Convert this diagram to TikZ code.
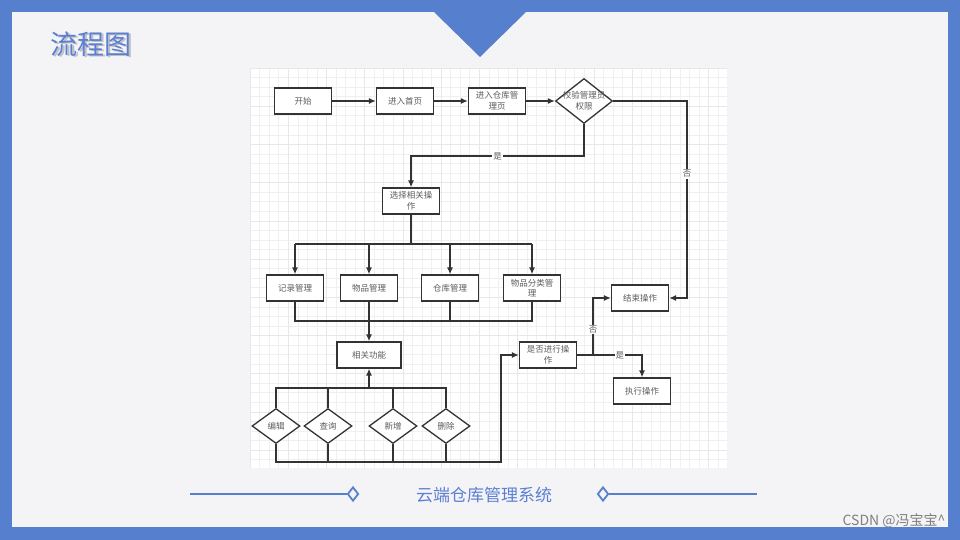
\documentclass[tikz,border=0pt]{standalone}
\usepackage{fontspec}
\setmainfont{Noto Sans CJK SC}
\newfontfamily\cjk{Noto Sans CJK SC}
\usetikzlibrary{shapes.geometric,arrows.meta}
\definecolor{frameblue}{HTML}{5680CE}
\definecolor{titleblue}{HTML}{5B7FD3}
\definecolor{panel}{HTML}{F4F4F7}
\definecolor{ink}{HTML}{333333}
\definecolor{gridc}{HTML}{F0F0F0}
\definecolor{gridm}{HTML}{E8E8E8}
\tikzset{
  x=1pt,y=-1pt,
  box/.style={draw=ink,line width=1.3pt,fill=white,minimum width=57pt,minimum height=26pt,inner sep=1pt,align=center,font=\cjk\fontsize{8.5}{10.5}\selectfont,text=ink!80},
  dia/.style={draw=ink,line width=1.3pt,fill=white,shape=diamond,inner sep=0pt,minimum width=#1},
  dlabel/.style={font=\cjk\fontsize{8.5}{10.5}\selectfont,text=ink!80,align=center},
  conn/.style={draw=ink,line width=1.3pt},
  arr/.style={conn,-{Latex[length=7pt,width=6pt]}},
  lbl/.style={fill=white,inner sep=1pt,font=\cjk\fontsize{8.5}{10.5}\selectfont,text=ink!80},
}
\begin{document}
\begin{tikzpicture}
\useasboundingbox (0,0) rectangle (960,540);
% frame and panel
\fill[frameblue] (0,0) rectangle (960,540);
\fill[panel] (12,12) rectangle (948,527);
\fill[frameblue] (434,12) -- (526,12) -- (480,57) -- cycle;
% title
\node[anchor=west,text=black!25,font=\cjk\fontsize{27}{30}\selectfont] at (48.5,45.5) {流程图};
\node[anchor=west,text=titleblue,font=\cjk\fontsize{27}{30}\selectfont] (title) at (47,44) {流程图};
% canvas
\fill[white] (250,68) rectangle (727,468);
\begin{scope}
\clip (250,68) rectangle (727,468);
\foreach \i in {0,...,50} {\draw[gridc,line width=0.5pt] (250+9.55*\i,68) -- (250+9.55*\i,468);}
\foreach \i in {0,...,42} {\draw[gridc,line width=0.5pt] (250,68+9.55*\i) -- (727,68+9.55*\i);}
\foreach \i in {0,...,12} {\draw[gridm,line width=0.6pt] (250+38.2*\i,68) -- (250+38.2*\i,468);}
\foreach \i in {0,...,10} {\draw[gridm,line width=0.6pt] (250,68+38.2*\i) -- (727,68+38.2*\i);}
\end{scope}
% nodes
\node[box] (start) at (303,101) {开始};
\node[box] (home) at (405,101) {进入首页};
\node[box] (wh) at (497,101) {进入仓库管\\理页};
\node[dia=57pt,minimum height=45pt,label={[dlabel]center:校验管理员\\权限}] (check) at (584,101) {};
\node[box] (sel) at (411,201) {选择相关操\\作};
\node[box] (rec) at (295,288) {记录管理};
\node[box] (goods) at (369,288) {物品管理};
\node[box] (ware) at (450,288) {仓库管理};
\node[box] (cat) at (532,288) {物品分类管\\理};
\node[box,minimum width=64pt] (func) at (369,355) {相关功能};
\node[dia=48pt,minimum height=35pt,label={[dlabel]center:编辑}] (edit) at (276,426) {};
\node[dia=48pt,minimum height=35pt,label={[dlabel]center:查询}] (query) at (328,426) {};
\node[dia=48pt,minimum height=35pt,label={[dlabel]center:新增}] (add) at (393,426) {};
\node[dia=48pt,minimum height=35pt,label={[dlabel]center:删除}] (del) at (446,426) {};
\node[box] (ask) at (548,355) {是否进行操\\作};
\node[box] (end) at (640,298) {结束操作};
\node[box] (exec) at (642,391) {执行操作};
% helper coordinates
\coordinate (nox) at (687,101);
\coordinate (noy) at (687,298);
\coordinate (yesa) at (584,156);
\coordinate (yesb) at (411,156);
\coordinate (splitA) at (411,244);
\coordinate (splitL) at (295,244);
\coordinate (splitR) at (532,244);
\coordinate (joinL) at (295,321);
\coordinate (joinR) at (532,321);
\coordinate (joinW) at (450,321);
\coordinate (topL) at (276,388);
\coordinate (topR) at (446,388);
\coordinate (topM) at (369,388);
\coordinate (botL) at (276,462);
\coordinate (botR) at (501,462);
\coordinate (botU) at (501,355);
\coordinate (br) at (593,355);
\coordinate (brUp) at (593,298);
\coordinate (brR) at (642,355);
% connectors
\draw[arr] (start) -- (home);
\draw[arr] (home) -- (wh);
\draw[arr] (wh) -- (check.west);
\draw[arr] (check.east) -- (nox) -- node[lbl,pos=0.37]{否} (noy) -- (end.east);
\draw[arr] (check.south) -- (yesa) -- node[lbl]{是} (yesb) -- (sel.north);
\draw[conn] (sel.south) -- (splitA);
\draw[conn] (splitL) -- (splitR);
\draw[arr] (splitL) -- (rec.north);
\draw[arr] (goods.north |- splitA) -- (goods.north);
\draw[arr] (ware.north |- splitA) -- (ware.north);
\draw[arr] (splitR) -- (cat.north);
\draw[conn] (rec.south) -- (joinL) -- (joinR) -- (cat.south);
\draw[conn] (ware.south) -- (joinW);
\draw[arr] (goods.south) -- (func.north);
\draw[conn] (edit.north) -- (topL) -- (topR) -- (del.north);
\draw[conn] (query.north) -- (query.north |- topL);
\draw[conn] (add.north) -- (add.north |- topL);
\draw[arr] (topM) -- (func.south);
\draw[arr] (edit.south) -- (botL) -- (botR) -- (botU) -- (ask.west);
\draw[conn] (query.south) -- (query.south |- botL);
\draw[conn] (add.south) -- (add.south |- botL);
\draw[conn] (del.south) -- (del.south |- botL);
\draw[conn] (ask.east) -- (br);
\draw[arr] (br) -- node[lbl,pos=0.45]{否} (brUp) -- (end.west);
\draw[arr] (br) -- node[lbl,pos=0.55]{是} (brR) -- (exec.north);
% footer
\draw[frameblue,line width=2pt] (190,494) -- (347,494);
\draw[frameblue,line width=2pt] (609,494) -- (757,494);
\node[draw=frameblue,line width=1.8pt,fill=panel,shape=diamond,minimum width=11pt,minimum height=14pt,inner sep=0pt] (dl) at (353,494) {};
\node[draw=frameblue,line width=1.8pt,fill=panel,shape=diamond,minimum width=11pt,minimum height=14pt,inner sep=0pt] (dr) at (603,494) {};
\node[text=titleblue,font=\cjk\fontsize{17}{20}\selectfont] (sys) at (484,495) {云端仓库管理系统};
\node[anchor=east,text=black!50,font=\cjk\fontsize{14}{16}\selectfont] (wm) at (949,521) {CSDN @冯宝宝\^{}};
\end{tikzpicture}
\end{document}
